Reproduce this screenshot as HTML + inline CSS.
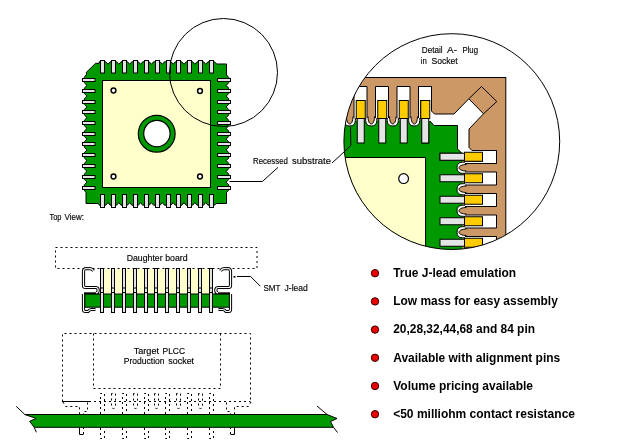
<!DOCTYPE html>
<html><head><meta charset="utf-8"><style>
html,body{margin:0;padding:0;background:#fff;}
svg{display:block;}
</style></head><body>
<svg width="620" height="446" viewBox="0 0 620 446">
<rect width="620" height="446" fill="#fff"/>
<polygon points="86.7,74.1 86.2,72.5 95.6,63.3 99.1,63.4 99.2,61.8 105.8,61.8 107.94,64.3 110.07,61.8 116.67,61.8 118.81,64.3 120.94,61.8 127.54,61.8 129.68,64.3 131.81,61.8 138.41,61.8 140.55,64.3 142.68,61.8 149.28,61.8 151.41,64.3 153.55,61.8 160.15,61.8 162.28,64.3 164.42,61.8 171.02,61.8 173.15,64.3 175.29,61.8 181.89,61.8 184.02,64.3 186.16,61.8 192.76,61.8 194.89,64.3 197.03,61.8 203.63,61.8 205.76,64.3 207.9,61.8 214.5,61.8 216.7,64 226.5,64 226.5,75 228.7,77.3 228.7,82.7 226.2,85.38 228.7,88.05 228.7,93.45 226.2,96.12 228.7,98.8 228.7,104.2 226.2,106.88 228.7,109.55 228.7,114.95 226.2,117.62 228.7,120.3 228.7,125.7 226.2,128.38 228.7,131.05 228.7,136.45 226.2,139.12 228.7,141.8 228.7,147.2 226.2,149.88 228.7,152.55 228.7,157.95 226.2,160.62 228.7,163.3 228.7,168.7 226.2,171.38 228.7,174.05 228.7,179.45 226.2,182.12 228.7,184.8 228.7,190.2 226.5,192.5 226.5,203.5 216.2,203.5 214.5,205.2 207.9,205.2 205.76,202.6 203.63,205.2 197.03,205.2 194.89,202.6 192.76,205.2 186.16,205.2 184.02,202.6 181.89,205.2 175.29,205.2 173.15,202.6 171.02,205.2 164.42,205.2 162.28,202.6 160.15,205.2 153.55,205.2 151.41,202.6 149.28,205.2 142.68,205.2 140.55,202.6 138.41,205.2 131.81,205.2 129.68,202.6 127.54,205.2 120.94,205.2 118.81,202.6 116.67,205.2 110.07,205.2 107.94,202.6 105.8,205.2 99.2,205.2 98.5,203.5 86,203.5 86,192.5 84.3,190.2 84.3,184.8 87,182.12 84.3,179.45 84.3,174.05 87,171.38 84.3,168.7 84.3,163.3 87,160.62 84.3,157.95 84.3,152.55 87,149.88 84.3,147.2 84.3,141.8 87,139.12 84.3,136.45 84.3,131.05 87,128.38 84.3,125.7 84.3,120.3 87,117.62 84.3,114.95 84.3,109.55 87,106.88 84.3,104.2 84.3,98.8 87,96.12 84.3,93.45 84.3,88.05 87,85.38 84.3,82.7 84.3,77.3" fill="#009900" stroke="#000" stroke-width="1"/>
<rect x="102.5" y="80.5" width="108" height="107" fill="#ffffcc" stroke="#000" stroke-width="1"/>
<rect x="100.5" y="60.5" width="4" height="12.5" fill="#e4e4e4" stroke="#000" stroke-width="1"/>
<rect x="100.5" y="194.5" width="4" height="13" fill="#e4e4e4" stroke="#000" stroke-width="1"/>
<rect x="111.5" y="60.5" width="4" height="12.5" fill="#e4e4e4" stroke="#000" stroke-width="1"/>
<rect x="111.5" y="194.5" width="4" height="13" fill="#e4e4e4" stroke="#000" stroke-width="1"/>
<rect x="122.5" y="60.5" width="4" height="12.5" fill="#e4e4e4" stroke="#000" stroke-width="1"/>
<rect x="122.5" y="194.5" width="4" height="13" fill="#e4e4e4" stroke="#000" stroke-width="1"/>
<rect x="133.5" y="60.5" width="4" height="12.5" fill="#e4e4e4" stroke="#000" stroke-width="1"/>
<rect x="133.5" y="194.5" width="4" height="13" fill="#e4e4e4" stroke="#000" stroke-width="1"/>
<rect x="144.5" y="60.5" width="4" height="12.5" fill="#e4e4e4" stroke="#000" stroke-width="1"/>
<rect x="144.5" y="194.5" width="4" height="13" fill="#e4e4e4" stroke="#000" stroke-width="1"/>
<rect x="155.5" y="60.5" width="4" height="12.5" fill="#e4e4e4" stroke="#000" stroke-width="1"/>
<rect x="155.5" y="194.5" width="4" height="13" fill="#e4e4e4" stroke="#000" stroke-width="1"/>
<rect x="166.5" y="60.5" width="4" height="12.5" fill="#e4e4e4" stroke="#000" stroke-width="1"/>
<rect x="166.5" y="194.5" width="4" height="13" fill="#e4e4e4" stroke="#000" stroke-width="1"/>
<rect x="176.5" y="60.5" width="4" height="12.5" fill="#e4e4e4" stroke="#000" stroke-width="1"/>
<rect x="176.5" y="194.5" width="4" height="13" fill="#e4e4e4" stroke="#000" stroke-width="1"/>
<rect x="187.5" y="60.5" width="4" height="12.5" fill="#e4e4e4" stroke="#000" stroke-width="1"/>
<rect x="187.5" y="194.5" width="4" height="13" fill="#e4e4e4" stroke="#000" stroke-width="1"/>
<rect x="198.5" y="60.5" width="4" height="12.5" fill="#e4e4e4" stroke="#000" stroke-width="1"/>
<rect x="198.5" y="194.5" width="4" height="13" fill="#e4e4e4" stroke="#000" stroke-width="1"/>
<rect x="209.5" y="60.5" width="4" height="12.5" fill="#e4e4e4" stroke="#000" stroke-width="1"/>
<rect x="209.5" y="194.5" width="4" height="13" fill="#e4e4e4" stroke="#000" stroke-width="1"/>
<rect x="82.5" y="78.5" width="12.5" height="3" fill="#e4e4e4" stroke="#000" stroke-width="1"/>
<rect x="217.5" y="78.5" width="13" height="3" fill="#e4e4e4" stroke="#000" stroke-width="1"/>
<rect x="82.5" y="89.5" width="12.5" height="3" fill="#e4e4e4" stroke="#000" stroke-width="1"/>
<rect x="217.5" y="89.5" width="13" height="3" fill="#e4e4e4" stroke="#000" stroke-width="1"/>
<rect x="82.5" y="100.5" width="12.5" height="3" fill="#e4e4e4" stroke="#000" stroke-width="1"/>
<rect x="217.5" y="100.5" width="13" height="3" fill="#e4e4e4" stroke="#000" stroke-width="1"/>
<rect x="82.5" y="110.5" width="12.5" height="3" fill="#e4e4e4" stroke="#000" stroke-width="1"/>
<rect x="217.5" y="110.5" width="13" height="3" fill="#e4e4e4" stroke="#000" stroke-width="1"/>
<rect x="82.5" y="121.5" width="12.5" height="3" fill="#e4e4e4" stroke="#000" stroke-width="1"/>
<rect x="217.5" y="121.5" width="13" height="3" fill="#e4e4e4" stroke="#000" stroke-width="1"/>
<rect x="82.5" y="132.5" width="12.5" height="3" fill="#e4e4e4" stroke="#000" stroke-width="1"/>
<rect x="217.5" y="132.5" width="13" height="3" fill="#e4e4e4" stroke="#000" stroke-width="1"/>
<rect x="82.5" y="142.5" width="12.5" height="3" fill="#e4e4e4" stroke="#000" stroke-width="1"/>
<rect x="217.5" y="142.5" width="13" height="3" fill="#e4e4e4" stroke="#000" stroke-width="1"/>
<rect x="82.5" y="153.5" width="12.5" height="3" fill="#e4e4e4" stroke="#000" stroke-width="1"/>
<rect x="217.5" y="153.5" width="13" height="3" fill="#e4e4e4" stroke="#000" stroke-width="1"/>
<rect x="82.5" y="164.5" width="12.5" height="3" fill="#e4e4e4" stroke="#000" stroke-width="1"/>
<rect x="217.5" y="164.5" width="13" height="3" fill="#e4e4e4" stroke="#000" stroke-width="1"/>
<rect x="82.5" y="175.5" width="12.5" height="3" fill="#e4e4e4" stroke="#000" stroke-width="1"/>
<rect x="217.5" y="175.5" width="13" height="3" fill="#e4e4e4" stroke="#000" stroke-width="1"/>
<rect x="82.5" y="186.5" width="12.5" height="3" fill="#e4e4e4" stroke="#000" stroke-width="1"/>
<rect x="217.5" y="186.5" width="13" height="3" fill="#e4e4e4" stroke="#000" stroke-width="1"/>
<circle cx="113.5" cy="90.5" r="2.4" fill="#fff" stroke="#000" stroke-width="1.5"/>
<circle cx="200" cy="91" r="2.4" fill="#fff" stroke="#000" stroke-width="1.5"/>
<circle cx="113.5" cy="176.5" r="2.4" fill="#fff" stroke="#000" stroke-width="1.5"/>
<circle cx="200" cy="176.5" r="2.4" fill="#fff" stroke="#000" stroke-width="1.5"/>
<circle cx="156.7" cy="133.7" r="18.4" fill="#009900" stroke="#000" stroke-width="1.2"/>
<circle cx="156.9" cy="133.6" r="13.2" fill="#fff" stroke="#000" stroke-width="1.2"/>
<circle cx="223.5" cy="72.5" r="54" fill="none" stroke="#000" stroke-width="1"/>
<polyline points="229.5,181.5 262.4,181.5 278,167.4" fill="none" stroke="#000" stroke-width="1"/>
<defs><clipPath id="dc"><circle cx="451.8" cy="141.6" r="107.9"/></clipPath></defs>
<circle cx="451.8" cy="141.6" r="107.9" fill="#fff"/>
<g clip-path="url(#dc)">
<rect x="330" y="77.5" width="175.8" height="190" fill="#cc9966" stroke="#000" stroke-width="1"/>
<polygon points="335,120.5 430,120.5 434,125.5 457.5,125.5 457.5,149 462.5,153 462.5,265 335,265" fill="#009900"/>
<rect x="330" y="157.5" width="95.6" height="110" fill="#ffffcc" stroke="#000" stroke-width="1"/>
<circle cx="403.6" cy="178.6" r="4.9" fill="#fff" stroke="#000" stroke-width="1.2"/>
<g><path d="M344.2,117.5 L344.2,120.5 Q344.2,126 349.75,126 Q355.3,126 355.3,120.5 L355.3,117.5" fill="#fff" stroke="#000" stroke-width="1"/>
<path d="M346.5,116.5 C346.5,121 348,124 349.75,124 C351.5,124 353,121 353,116.5" fill="#cc9966" stroke="#000" stroke-width="1"/>
<path d="M365.7,117.5 L365.7,120.5 Q365.7,126 371.25,126 Q376.8,126 376.8,120.5 L376.8,117.5" fill="#fff" stroke="#000" stroke-width="1"/>
<path d="M368,116.5 C368,121 369.5,124 371.25,124 C373,124 374.5,121 374.5,116.5" fill="#cc9966" stroke="#000" stroke-width="1"/>
<path d="M387.2,117.5 L387.2,120.5 Q387.2,126 392.75,126 Q398.3,126 398.3,120.5 L398.3,117.5" fill="#fff" stroke="#000" stroke-width="1"/>
<path d="M389.5,116.5 C389.5,121 391,124 392.75,124 C394.5,124 396,121 396,116.5" fill="#cc9966" stroke="#000" stroke-width="1"/>
<path d="M408.7,117.5 L408.7,120.5 Q408.7,126 414.25,126 Q419.8,126 419.8,120.5 L419.8,117.5" fill="#fff" stroke="#000" stroke-width="1"/>
<path d="M411,116.5 C411,121 412.5,124 414.25,124 C416,124 417.5,121 417.5,116.5" fill="#cc9966" stroke="#000" stroke-width="1"/>
<path d="M332.5,118 L332.5,86.5 L345.5,86.5 L345.5,118" fill="#fff" stroke="#000" stroke-width="1"/>
<rect x="334.75" y="100.5" width="9" height="18" fill="#ffcc00" stroke="#000" stroke-width="1"/>
<rect x="335.75" y="118.5" width="7" height="24.5" fill="#e4e4e4" stroke="#000" stroke-width="1"/>
<path d="M354,118 L354,86.5 L367,86.5 L367,118" fill="#fff" stroke="#000" stroke-width="1"/>
<rect x="356.25" y="100.5" width="9" height="18" fill="#ffcc00" stroke="#000" stroke-width="1"/>
<rect x="357.25" y="118.5" width="7" height="24.5" fill="#e4e4e4" stroke="#000" stroke-width="1"/>
<path d="M375.5,118 L375.5,86.5 L388.5,86.5 L388.5,118" fill="#fff" stroke="#000" stroke-width="1"/>
<rect x="377.75" y="100.5" width="9" height="18" fill="#ffcc00" stroke="#000" stroke-width="1"/>
<rect x="378.75" y="118.5" width="7" height="24.5" fill="#e4e4e4" stroke="#000" stroke-width="1"/>
<path d="M397,118 L397,86.5 L410,86.5 L410,118" fill="#fff" stroke="#000" stroke-width="1"/>
<rect x="399.25" y="100.5" width="9" height="18" fill="#ffcc00" stroke="#000" stroke-width="1"/>
<rect x="400.25" y="118.5" width="7" height="24.5" fill="#e4e4e4" stroke="#000" stroke-width="1"/>
<path d="M418.5,118 L418.5,86.5 L431.5,86.5 L431.5,118" fill="#fff" stroke="#000" stroke-width="1"/>
<rect x="420.75" y="100.5" width="9" height="18" fill="#ffcc00" stroke="#000" stroke-width="1"/>
<rect x="421.75" y="118.5" width="7" height="24.5" fill="#e4e4e4" stroke="#000" stroke-width="1"/></g>
<g transform="matrix(0,-1,-1,0,583,582)"><path d="M344.2,117.5 L344.2,120.5 Q344.2,126 349.75,126 Q355.3,126 355.3,120.5 L355.3,117.5" fill="#fff" stroke="#000" stroke-width="1"/>
<path d="M346.5,116.5 C346.5,121 348,124 349.75,124 C351.5,124 353,121 353,116.5" fill="#cc9966" stroke="#000" stroke-width="1"/>
<path d="M365.7,117.5 L365.7,120.5 Q365.7,126 371.25,126 Q376.8,126 376.8,120.5 L376.8,117.5" fill="#fff" stroke="#000" stroke-width="1"/>
<path d="M368,116.5 C368,121 369.5,124 371.25,124 C373,124 374.5,121 374.5,116.5" fill="#cc9966" stroke="#000" stroke-width="1"/>
<path d="M387.2,117.5 L387.2,120.5 Q387.2,126 392.75,126 Q398.3,126 398.3,120.5 L398.3,117.5" fill="#fff" stroke="#000" stroke-width="1"/>
<path d="M389.5,116.5 C389.5,121 391,124 392.75,124 C394.5,124 396,121 396,116.5" fill="#cc9966" stroke="#000" stroke-width="1"/>
<path d="M408.7,117.5 L408.7,120.5 Q408.7,126 414.25,126 Q419.8,126 419.8,120.5 L419.8,117.5" fill="#fff" stroke="#000" stroke-width="1"/>
<path d="M411,116.5 C411,121 412.5,124 414.25,124 C416,124 417.5,121 417.5,116.5" fill="#cc9966" stroke="#000" stroke-width="1"/>
<path d="M332.5,118 L332.5,86.5 L345.5,86.5 L345.5,118" fill="#fff" stroke="#000" stroke-width="1"/>
<rect x="334.75" y="100.5" width="9" height="18" fill="#ffcc00" stroke="#000" stroke-width="1"/>
<rect x="335.75" y="118.5" width="7" height="24.5" fill="#e4e4e4" stroke="#000" stroke-width="1"/>
<path d="M354,118 L354,86.5 L367,86.5 L367,118" fill="#fff" stroke="#000" stroke-width="1"/>
<rect x="356.25" y="100.5" width="9" height="18" fill="#ffcc00" stroke="#000" stroke-width="1"/>
<rect x="357.25" y="118.5" width="7" height="24.5" fill="#e4e4e4" stroke="#000" stroke-width="1"/>
<path d="M375.5,118 L375.5,86.5 L388.5,86.5 L388.5,118" fill="#fff" stroke="#000" stroke-width="1"/>
<rect x="377.75" y="100.5" width="9" height="18" fill="#ffcc00" stroke="#000" stroke-width="1"/>
<rect x="378.75" y="118.5" width="7" height="24.5" fill="#e4e4e4" stroke="#000" stroke-width="1"/>
<path d="M397,118 L397,86.5 L410,86.5 L410,118" fill="#fff" stroke="#000" stroke-width="1"/>
<rect x="399.25" y="100.5" width="9" height="18" fill="#ffcc00" stroke="#000" stroke-width="1"/>
<rect x="400.25" y="118.5" width="7" height="24.5" fill="#e4e4e4" stroke="#000" stroke-width="1"/>
<path d="M418.5,118 L418.5,86.5 L431.5,86.5 L431.5,118" fill="#fff" stroke="#000" stroke-width="1"/>
<rect x="420.75" y="100.5" width="9" height="18" fill="#ffcc00" stroke="#000" stroke-width="1"/>
<rect x="421.75" y="118.5" width="7" height="24.5" fill="#e4e4e4" stroke="#000" stroke-width="1"/></g>
<polygon points="431.5,100 431.5,111 434.5,114 454,114 468.8,98.8 483.5,113.8 469,129 469,147.5 472,150.5 483,150.5 483,160 462.5,160 462.5,153 457.5,149 457.5,125.5 434,125.5 430,121 423,120.5 423,100" fill="#fff"/>
<polyline points="430,121 434,125.5 457.5,125.5 457.5,149 462,153.5" fill="none" stroke="#000" stroke-width="1"/>
<polyline points="431.5,86.5 431.5,111 434.5,114 454,114 468.8,98.8" fill="none" stroke="#000" stroke-width="1"/>
<polyline points="483.5,113.8 469,129 469,147.5 472,150.5 496,150.5" fill="none" stroke="#000" stroke-width="1"/>
<polygon points="481.5,86.5 496.8,101.5 483.5,113.8 468.8,98.8" fill="#cc9966" stroke="#000" stroke-width="1"/>
<rect x="420.75" y="100.5" width="9" height="18" fill="#ffcc00" stroke="#000" stroke-width="1"/><rect x="421.75" y="118.5" width="7" height="24.5" fill="#e4e4e4" stroke="#000" stroke-width="1"/><path d="M418.5,100 L418.5,86.5 L431.5,86.5" fill="none" stroke="#000" stroke-width="1"/>
<g transform="matrix(0,-1,-1,0,583,582)"><rect x="420.75" y="100.5" width="9" height="18" fill="#ffcc00" stroke="#000" stroke-width="1"/><rect x="421.75" y="118.5" width="7" height="24.5" fill="#e4e4e4" stroke="#000" stroke-width="1"/><path d="M418.5,100 L418.5,86.5 L431.5,86.5" fill="none" stroke="#000" stroke-width="1"/></g>
<polyline points="343.7,152.4 350.8,145.6 350.5,127" fill="none" stroke="#000" stroke-width="1"/>
</g>
<circle cx="451.8" cy="141.6" r="107.9" fill="none" stroke="#000" stroke-width="1"/>
<polyline points="332,163 344,152" fill="none" stroke="#000" stroke-width="1"/>
<rect x="55.5" y="247.5" width="201.5" height="21" fill="none" stroke="#000" stroke-width="1" stroke-dasharray="2 3"/>
<rect x="100.5" y="269" width="112" height="25" fill="#ffffcc"/>
<rect x="84.8" y="294" width="144.6" height="13.2" fill="#009900" stroke="#000" stroke-width="1"/>
<rect x="100.5" y="268.5" width="3" height="44" fill="#e4e4e4" stroke="#000" stroke-width="1"/>
<line x1="100" y1="288" x2="104" y2="288" stroke="#000" stroke-width="1"/>
<line x1="100" y1="292.5" x2="104" y2="292.5" stroke="#000" stroke-width="1"/>
<rect x="111.5" y="268.5" width="3" height="44" fill="#e4e4e4" stroke="#000" stroke-width="1"/>
<line x1="111" y1="288" x2="115" y2="288" stroke="#000" stroke-width="1"/>
<line x1="111" y1="292.5" x2="115" y2="292.5" stroke="#000" stroke-width="1"/>
<rect x="122.5" y="268.5" width="3" height="44" fill="#e4e4e4" stroke="#000" stroke-width="1"/>
<line x1="122" y1="288" x2="126" y2="288" stroke="#000" stroke-width="1"/>
<line x1="122" y1="292.5" x2="126" y2="292.5" stroke="#000" stroke-width="1"/>
<rect x="133.5" y="268.5" width="3" height="44" fill="#e4e4e4" stroke="#000" stroke-width="1"/>
<line x1="133" y1="288" x2="137" y2="288" stroke="#000" stroke-width="1"/>
<line x1="133" y1="292.5" x2="137" y2="292.5" stroke="#000" stroke-width="1"/>
<rect x="144.5" y="268.5" width="3" height="44" fill="#e4e4e4" stroke="#000" stroke-width="1"/>
<line x1="144" y1="288" x2="148" y2="288" stroke="#000" stroke-width="1"/>
<line x1="144" y1="292.5" x2="148" y2="292.5" stroke="#000" stroke-width="1"/>
<rect x="154.5" y="268.5" width="3" height="44" fill="#e4e4e4" stroke="#000" stroke-width="1"/>
<line x1="154" y1="288" x2="158" y2="288" stroke="#000" stroke-width="1"/>
<line x1="154" y1="292.5" x2="158" y2="292.5" stroke="#000" stroke-width="1"/>
<rect x="165.5" y="268.5" width="3" height="44" fill="#e4e4e4" stroke="#000" stroke-width="1"/>
<line x1="165" y1="288" x2="169" y2="288" stroke="#000" stroke-width="1"/>
<line x1="165" y1="292.5" x2="169" y2="292.5" stroke="#000" stroke-width="1"/>
<rect x="176.5" y="268.5" width="3" height="44" fill="#e4e4e4" stroke="#000" stroke-width="1"/>
<line x1="176" y1="288" x2="180" y2="288" stroke="#000" stroke-width="1"/>
<line x1="176" y1="292.5" x2="180" y2="292.5" stroke="#000" stroke-width="1"/>
<rect x="187.5" y="268.5" width="3" height="44" fill="#e4e4e4" stroke="#000" stroke-width="1"/>
<line x1="187" y1="288" x2="191" y2="288" stroke="#000" stroke-width="1"/>
<line x1="187" y1="292.5" x2="191" y2="292.5" stroke="#000" stroke-width="1"/>
<rect x="198.5" y="268.5" width="3" height="44" fill="#e4e4e4" stroke="#000" stroke-width="1"/>
<line x1="198" y1="288" x2="202" y2="288" stroke="#000" stroke-width="1"/>
<line x1="198" y1="292.5" x2="202" y2="292.5" stroke="#000" stroke-width="1"/>
<rect x="209.5" y="268.5" width="3" height="44" fill="#e4e4e4" stroke="#000" stroke-width="1"/>
<line x1="209" y1="288" x2="213" y2="288" stroke="#000" stroke-width="1"/>
<line x1="209" y1="292.5" x2="213" y2="292.5" stroke="#000" stroke-width="1"/>
<line x1="84" y1="293.3" x2="99" y2="293.3" stroke="#000" stroke-width="2"/>
<line x1="215" y1="293.3" x2="230" y2="293.3" stroke="#000" stroke-width="2"/>
<g fill="none"><path d="M93.5,270.8 Q92,268.5 89.5,268.6 Q87.5,268.9 86.3,268.5 Q83.5,268.5 83.5,271.5 L83.5,285.5 Q83.5,287.5 85.5,287.5 L96,287.5 Q98.2,287.7 98.2,290.2 Q98.2,292.6 96,292.8 M83.5,294 L83.5,309.5 Q83.5,311.5 85.5,311.5 L88,311.5 Q89.5,309.5 91.5,309.5 L95.5,309.5" stroke="#000" stroke-width="3.2"/><path d="M93.5,270.8 Q92,268.5 89.5,268.6 Q87.5,268.9 86.3,268.5 Q83.5,268.5 83.5,271.5 L83.5,285.5 Q83.5,287.5 85.5,287.5 L96,287.5 Q98.2,287.7 98.2,290.2 Q98.2,292.6 96,292.8 M83.5,294 L83.5,309.5 Q83.5,311.5 85.5,311.5 L88,311.5 Q89.5,309.5 91.5,309.5 L95.5,309.5" stroke="#fff" stroke-width="1.2"/></g>
<g fill="none" transform="translate(314,0) scale(-1,1)"><path d="M93.5,270.8 Q92,268.5 89.5,268.6 Q87.5,268.9 86.3,268.5 Q83.5,268.5 83.5,271.5 L83.5,285.5 Q83.5,287.5 85.5,287.5 L96,287.5 Q98.2,287.7 98.2,290.2 Q98.2,292.6 96,292.8 M83.5,294 L83.5,309.5 Q83.5,311.5 85.5,311.5 L88,311.5 Q89.5,309.5 91.5,309.5 L95.5,309.5" stroke="#000" stroke-width="3.2"/><path d="M93.5,270.8 Q92,268.5 89.5,268.6 Q87.5,268.9 86.3,268.5 Q83.5,268.5 83.5,271.5 L83.5,285.5 Q83.5,287.5 85.5,287.5 L96,287.5 Q98.2,287.7 98.2,290.2 Q98.2,292.6 96,292.8 M83.5,294 L83.5,309.5 Q83.5,311.5 85.5,311.5 L88,311.5 Q89.5,309.5 91.5,309.5 L95.5,309.5" stroke="#fff" stroke-width="1.2"/></g>
<rect x="233.5" y="276" width="2" height="1.6" fill="#000"/>
<polyline points="237,276.5 250.6,276.5 260.3,286.2" fill="none" stroke="#000" stroke-width="1"/>
<path d="M62.5,401.5 L62.5,333.5 L250.5,333.5 L250.5,401.5" fill="none" stroke="#000" stroke-width="1" stroke-dasharray="2 3"/>
<path d="M93.5,333.5 L93.5,388.5 L220.5,388.5 L220.5,333.5" fill="none" stroke="#000" stroke-width="1" stroke-dasharray="2 3"/>
<line x1="89" y1="401.5" x2="250.5" y2="401.5" fill="none" stroke="#000" stroke-width="1" stroke-dasharray="2 3"/>
<line x1="62" y1="401.5" x2="89" y2="401.5" stroke="#000" stroke-width="1"/>
<path d="M63,402 L65.5,406.5 L79.5,406.5 L79.5,414" fill="none" stroke="#000" stroke-width="1" stroke-dasharray="2 3"/><path d="M87.5,402.5 L87.5,411.5 L83.5,411.5 L83.5,414" fill="none" stroke="#000" stroke-width="1" stroke-dasharray="2 3"/><path d="M79.5,427.5 L79.5,434.5 L83.5,434.5" fill="none" stroke="#000" stroke-width="1"/><path d="M83.5,434 L83.5,427.5" fill="none" stroke="#000" stroke-width="1" stroke-dasharray="2 3"/>
<g transform="translate(314,0) scale(-1,1)"><path d="M63,402 L65.5,406.5 L79.5,406.5 L79.5,414" fill="none" stroke="#000" stroke-width="1" stroke-dasharray="2 3"/><path d="M87.5,402.5 L87.5,411.5 L83.5,411.5 L83.5,414" fill="none" stroke="#000" stroke-width="1" stroke-dasharray="2 3"/><path d="M79.5,427.5 L79.5,434.5 L83.5,434.5" fill="none" stroke="#000" stroke-width="1"/><path d="M83.5,434 L83.5,427.5" fill="none" stroke="#000" stroke-width="1" stroke-dasharray="2 3"/></g>
<path d="M100.5,414 L100.5,393.5 L104.5,393.5 L104.5,414" fill="none" stroke="#000" stroke-width="1" stroke-dasharray="2 3"/>
<path d="M100.5,428 L100.5,438.5 L104.5,438.5 L104.5,428" fill="none" stroke="#000" stroke-width="1" stroke-dasharray="2 3"/>
<path d="M111.5,393.5 L111.5,406 Q111.5,408.5 113.5,408.5 Q115.5,408.5 115.5,406 L115.5,393.5 Z" fill="none" stroke="#000" stroke-width="1" stroke-dasharray="2 3"/>
<path d="M122.5,414 L122.5,393.5 L126.5,393.5 L126.5,414" fill="none" stroke="#000" stroke-width="1" stroke-dasharray="2 3"/>
<path d="M122.5,428 L122.5,438.5 L126.5,438.5 L126.5,428" fill="none" stroke="#000" stroke-width="1" stroke-dasharray="2 3"/>
<path d="M133.5,393.5 L133.5,406 Q133.5,408.5 135.5,408.5 Q137.5,408.5 137.5,406 L137.5,393.5 Z" fill="none" stroke="#000" stroke-width="1" stroke-dasharray="2 3"/>
<path d="M144.5,414 L144.5,393.5 L148.5,393.5 L148.5,414" fill="none" stroke="#000" stroke-width="1" stroke-dasharray="2 3"/>
<path d="M144.5,428 L144.5,438.5 L148.5,438.5 L148.5,428" fill="none" stroke="#000" stroke-width="1" stroke-dasharray="2 3"/>
<path d="M154.5,393.5 L154.5,406 Q154.5,408.5 156.5,408.5 Q158.5,408.5 158.5,406 L158.5,393.5 Z" fill="none" stroke="#000" stroke-width="1" stroke-dasharray="2 3"/>
<path d="M165.5,414 L165.5,393.5 L169.5,393.5 L169.5,414" fill="none" stroke="#000" stroke-width="1" stroke-dasharray="2 3"/>
<path d="M165.5,428 L165.5,438.5 L169.5,438.5 L169.5,428" fill="none" stroke="#000" stroke-width="1" stroke-dasharray="2 3"/>
<path d="M176.5,393.5 L176.5,406 Q176.5,408.5 178.5,408.5 Q180.5,408.5 180.5,406 L180.5,393.5 Z" fill="none" stroke="#000" stroke-width="1" stroke-dasharray="2 3"/>
<path d="M187.5,414 L187.5,393.5 L191.5,393.5 L191.5,414" fill="none" stroke="#000" stroke-width="1" stroke-dasharray="2 3"/>
<path d="M187.5,428 L187.5,438.5 L191.5,438.5 L191.5,428" fill="none" stroke="#000" stroke-width="1" stroke-dasharray="2 3"/>
<path d="M198.5,393.5 L198.5,406 Q198.5,408.5 200.5,408.5 Q202.5,408.5 202.5,406 L202.5,393.5 Z" fill="none" stroke="#000" stroke-width="1" stroke-dasharray="2 3"/>
<path d="M209.5,414 L209.5,393.5 L213.5,393.5 L213.5,414" fill="none" stroke="#000" stroke-width="1" stroke-dasharray="2 3"/>
<path d="M209.5,428 L209.5,438.5 L213.5,438.5 L213.5,428" fill="none" stroke="#000" stroke-width="1" stroke-dasharray="2 3"/>
<polygon points="24.8,414.5 327,414.5 337,418.5 330.5,421.5 333.5,427.3 34.2,427.3 29.7,421.3 36,418.4" fill="#009900" stroke="#000" stroke-width="1"/>
<line x1="16.2" y1="406.3" x2="24.8" y2="414.5" stroke="#000" stroke-width="1"/>
<line x1="34.2" y1="427.3" x2="36.4" y2="432.3" stroke="#000" stroke-width="1"/>
<line x1="317" y1="406" x2="327" y2="414.5" stroke="#000" stroke-width="1"/>
<line x1="333.5" y1="427.3" x2="337.5" y2="432.5" stroke="#000" stroke-width="1"/>
<g fill="#000" style="font-family:&quot;Liberation Sans&quot;,sans-serif;filter:grayscale(1)">
<text x="421.8" y="53" font-size="9.5" font-weight="normal" textLength="20.9" lengthAdjust="spacingAndGlyphs" stroke="#000" stroke-width="0.15">Detail</text>
<text x="447.1" y="53" font-size="9.5" font-weight="normal" textLength="9.9" lengthAdjust="spacingAndGlyphs" stroke="#000" stroke-width="0.15">A-</text>
<text x="462.4" y="53" font-size="9.5" font-weight="normal" textLength="15.6" lengthAdjust="spacingAndGlyphs" stroke="#000" stroke-width="0.15">Plug</text>
<text x="420.7" y="63.5" font-size="9.5" font-weight="normal" textLength="6.1" lengthAdjust="spacingAndGlyphs" stroke="#000" stroke-width="0.15">in</text>
<text x="431.5" y="63.5" font-size="9.5" font-weight="normal" textLength="26.2" lengthAdjust="spacingAndGlyphs" stroke="#000" stroke-width="0.15">Socket</text>
<text x="253" y="164" font-size="9" font-weight="normal" textLength="35" lengthAdjust="spacingAndGlyphs" stroke="#000" stroke-width="0.15">Recessed</text>
<text x="292" y="164" font-size="9" font-weight="normal" textLength="39" lengthAdjust="spacingAndGlyphs" stroke="#000" stroke-width="0.15">substrate</text>
<text x="49.5" y="219.8" font-size="8.5" font-weight="normal" textLength="12" lengthAdjust="spacingAndGlyphs" stroke="#000" stroke-width="0.15">Top</text>
<text x="64.5" y="219.8" font-size="8.5" font-weight="normal" textLength="19.5" lengthAdjust="spacingAndGlyphs" stroke="#000" stroke-width="0.15">View:</text>
<text x="126.7" y="260.9" font-size="9" font-weight="normal" textLength="35.9" lengthAdjust="spacingAndGlyphs" stroke="#000" stroke-width="0.15">Daughter</text>
<text x="165.2" y="260.9" font-size="9" font-weight="normal" textLength="22.5" lengthAdjust="spacingAndGlyphs" stroke="#000" stroke-width="0.15">board</text>
<text x="263.5" y="291" font-size="9" font-weight="normal" textLength="17" lengthAdjust="spacingAndGlyphs" stroke="#000" stroke-width="0.15">SMT</text>
<text x="284.5" y="291" font-size="9" font-weight="normal" textLength="23.4" lengthAdjust="spacingAndGlyphs" stroke="#000" stroke-width="0.15">J-lead</text>
<text x="133.7" y="353.5" font-size="9" font-weight="normal" textLength="25.3" lengthAdjust="spacingAndGlyphs" stroke="#000" stroke-width="0.15">Target</text>
<text x="162.5" y="353.5" font-size="9" font-weight="normal" textLength="22.6" lengthAdjust="spacingAndGlyphs" stroke="#000" stroke-width="0.15">PLCC</text>
<text x="123.8" y="363.6" font-size="9" font-weight="normal" textLength="40.7" lengthAdjust="spacingAndGlyphs" stroke="#000" stroke-width="0.15">Production</text>
<text x="168.3" y="363.6" font-size="9" font-weight="normal" textLength="25.8" lengthAdjust="spacingAndGlyphs" stroke="#000" stroke-width="0.15">socket</text>
<text x="393.2" y="276.8" font-size="12" font-weight="bold" textLength="123" lengthAdjust="spacingAndGlyphs">True J-lead emulation</text>
<text x="393.2" y="305.04" font-size="12" font-weight="bold" textLength="164.6" lengthAdjust="spacingAndGlyphs">Low mass for easy assembly</text>
<text x="393.2" y="333.28" font-size="12" font-weight="bold" textLength="141.8" lengthAdjust="spacingAndGlyphs">20,28,32,44,68 and 84 pin</text>
<text x="393.2" y="361.52" font-size="12" font-weight="bold" textLength="167" lengthAdjust="spacingAndGlyphs">Available with alignment pins</text>
<text x="393.2" y="389.76" font-size="12" font-weight="bold" textLength="139.8" lengthAdjust="spacingAndGlyphs">Volume pricing available</text>
<text x="393.2" y="418" font-size="12" font-weight="bold" textLength="181.8" lengthAdjust="spacingAndGlyphs">&lt;50 milliohm contact resistance</text>
</g>
<circle cx="375" cy="273.2" r="3.7" fill="#ee0000" stroke="#300" stroke-width="1"/>
<circle cx="375" cy="301.4" r="3.7" fill="#ee0000" stroke="#300" stroke-width="1"/>
<circle cx="375" cy="329.6" r="3.7" fill="#ee0000" stroke="#300" stroke-width="1"/>
<circle cx="375" cy="357.8" r="3.7" fill="#ee0000" stroke="#300" stroke-width="1"/>
<circle cx="375" cy="386" r="3.7" fill="#ee0000" stroke="#300" stroke-width="1"/>
<circle cx="375" cy="414.2" r="3.7" fill="#ee0000" stroke="#300" stroke-width="1"/>
</svg>
</body></html>
